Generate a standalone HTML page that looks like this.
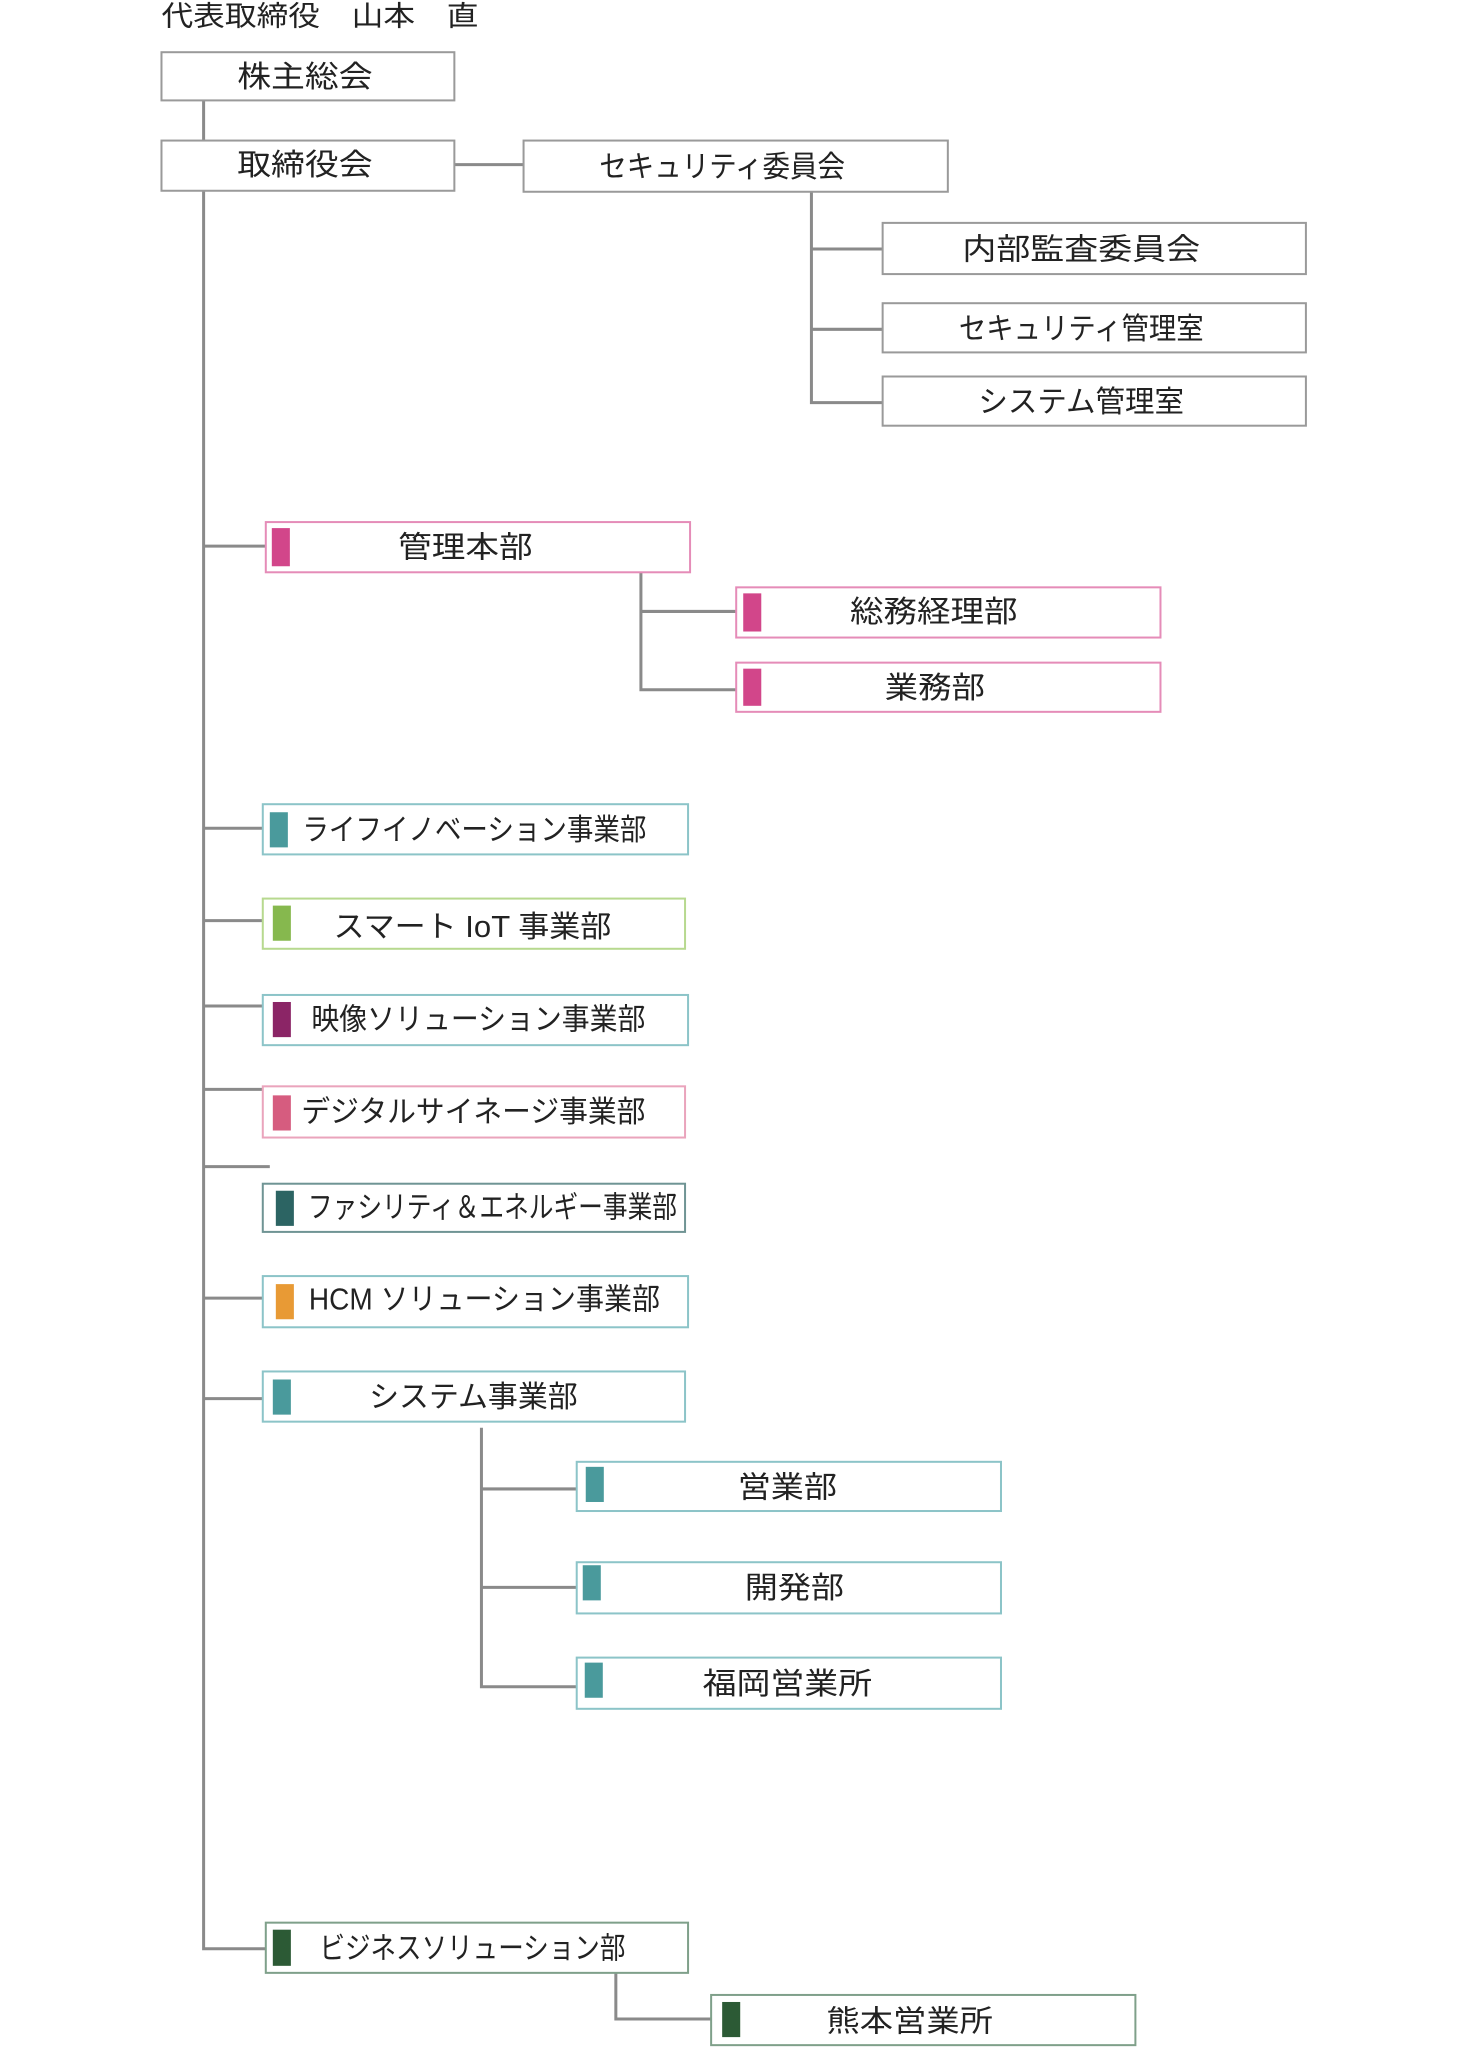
<!DOCTYPE html>
<html><head><meta charset="utf-8"><style>
html,body{margin:0;padding:0;background:#fff;}
svg{display:block;}
text{font-family:"Liberation Sans","Noto Sans CJK JP",sans-serif;fill:#222;font-size:30px;dominant-baseline:central;text-anchor:middle;}
.ln{stroke:#8a8a8a;stroke-width:3;fill:none;}
</style></head><body>
<svg width="1473" height="2048" viewBox="0 0 1473 2048" xmlns="http://www.w3.org/2000/svg">
<g transform="scale(1.003,1.004)">
<text x="161" y="16" style="text-anchor:start;font-size:28px" textLength="316" lengthAdjust="spacingAndGlyphs">代表取締役　山本　直</text>

<path class="ln" d="M203 100V140 M203 190V1941H265 M453 164H522 M809 191V401H880 M809 248H880 M809 328H880
M203 544H265 M639 570V687H734 M639 609H734
M203 825H262 M203 917H262 M203 1002H262 M203 1085H265 M203 1162H269 M203 1293H262 M203 1393H262
M480 1422V1680H575 M480 1483H575 M480 1581H575
M614 1965V2011H709"/>

<g fill="#fff" stroke="#9a9a9a" stroke-width="2">
<rect x="161" y="52" width="292" height="48"/>
<rect x="161" y="140" width="292" height="50"/>
<rect x="522" y="140" width="423" height="51"/>
<rect x="880" y="222" width="422" height="51"/>
<rect x="880" y="302" width="422" height="49"/>
<rect x="880" y="375" width="422" height="49"/>
</g>
<text x="304" y="77" textLength="135" lengthAdjust="spacingAndGlyphs">株主総会</text>
<text x="304" y="165" textLength="135" lengthAdjust="spacingAndGlyphs">取締役会</text>
<text x="720" y="167" textLength="245" lengthAdjust="spacingAndGlyphs">セキュリティ委員会</text>
<text x="1078" y="249" textLength="237" lengthAdjust="spacingAndGlyphs">内部監査委員会</text>
<text x="1078" y="328" textLength="244" lengthAdjust="spacingAndGlyphs">セキュリティ管理室</text>
<text x="1078" y="401" textLength="205" lengthAdjust="spacingAndGlyphs">システム管理室</text>

<g stroke-width="2" fill="#fff">
<rect x="265" y="520" width="423" height="50" stroke="#e58cb8"/>
<rect x="734" y="585" width="423" height="50" stroke="#e58cb8"/>
<rect x="734" y="660" width="423" height="49" stroke="#e58cb8"/>
<rect x="262" y="801" width="424" height="50" stroke="#8cc4c8"/>
<rect x="262" y="895" width="421" height="50" stroke="#b7d98f"/>
<rect x="262" y="991" width="424" height="50" stroke="#8cc4c8"/>
<rect x="262" y="1082" width="421" height="51" stroke="#eaa4bc"/>
<rect x="262" y="1179" width="421" height="48" stroke="#6f9494"/>
<rect x="262" y="1271" width="424" height="51" stroke="#8cc4c8"/>
<rect x="262" y="1366" width="421" height="50" stroke="#8cc4c8"/>
<rect x="575" y="1456" width="423" height="49" stroke="#8cc4c8"/>
<rect x="575" y="1556" width="423" height="51" stroke="#8cc4c8"/>
<rect x="575" y="1651" width="423" height="51" stroke="#8cc4c8"/>
<rect x="265" y="1915" width="421" height="50" stroke="#7fa08a"/>
<rect x="709" y="1987" width="423" height="50" stroke="#7fa08a"/>
</g>
<rect x="271" y="526" width="18" height="38" fill="#d2468a"/>
<rect x="741" y="591" width="18" height="38" fill="#d2468a"/>
<rect x="741" y="666" width="18" height="37" fill="#d2468a"/>
<rect x="269" y="809" width="18" height="35" fill="#4a9a9c"/>
<rect x="272" y="902" width="18" height="35" fill="#86b84e"/>
<rect x="272" y="998" width="18" height="35" fill="#8b2566"/>
<rect x="272" y="1091" width="18" height="35" fill="#d65c7f"/>
<rect x="275" y="1186" width="18" height="35" fill="#2c6463"/>
<rect x="275" y="1279" width="18" height="35" fill="#e89a35"/>
<rect x="272" y="1374" width="18" height="35" fill="#4a9a9c"/>
<rect x="584" y="1461" width="18" height="35" fill="#4a9a9c"/>
<rect x="581" y="1559" width="18" height="35" fill="#4a9a9c"/>
<rect x="583" y="1656" width="18" height="35" fill="#4a9a9c"/>
<rect x="272" y="1922" width="18" height="36" fill="#2c5a35"/>
<rect x="720" y="1994" width="18" height="35" fill="#2c5a35"/>

<text x="464" y="546" textLength="134" lengthAdjust="spacingAndGlyphs">管理本部</text>
<text x="931" y="610" textLength="167" lengthAdjust="spacingAndGlyphs">総務経理部</text>
<text x="932" y="686" textLength="100" lengthAdjust="spacingAndGlyphs">業務部</text>
<text x="473" y="827" textLength="343" lengthAdjust="spacingAndGlyphs">ライフイノベーション事業部</text>
<text x="471" y="924" textLength="277" lengthAdjust="spacingAndGlyphs">スマート IoT 事業部</text>
<text x="477" y="1016" textLength="333" lengthAdjust="spacingAndGlyphs">映像ソリューション事業部</text>
<text x="472" y="1108" textLength="343" lengthAdjust="spacingAndGlyphs">デジタルサイネージ事業部</text>
<text x="491" y="1203" textLength="368" lengthAdjust="spacingAndGlyphs">ファシリティ＆エネルギー事業部</text>
<text x="483" y="1295" textLength="350" lengthAdjust="spacingAndGlyphs">HCM ソリューション事業部</text>
<text x="472" y="1392" textLength="208" lengthAdjust="spacingAndGlyphs">システム事業部</text>
<text x="785" y="1482" textLength="99" lengthAdjust="spacingAndGlyphs">営業部</text>
<text x="792" y="1582" textLength="99" lengthAdjust="spacingAndGlyphs">開発部</text>
<text x="785" y="1678" textLength="169" lengthAdjust="spacingAndGlyphs">福岡営業所</text>
<text x="471" y="1941" textLength="305" lengthAdjust="spacingAndGlyphs">ビジネスソリューション部</text>
<text x="907" y="2014" textLength="166" lengthAdjust="spacingAndGlyphs">熊本営業所</text>
</g>
</svg>
</body></html>
